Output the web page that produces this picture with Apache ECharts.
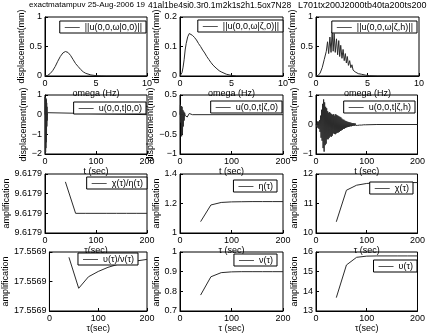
<!DOCTYPE html>
<html>
<head>
<meta charset="utf-8">
<script src="https://cdn.jsdelivr.net/npm/echarts@6/dist/echarts.min.js"></script>
<style>
html, body { margin: 0; padding: 0; background: #fff; }
#chart { width: 428px; height: 334px; }
</style>
</head>
<body>
<div id="chart"></div>
<script>
// ---- data ----
// row 1: amplitude spectra
var omegaA = [0, 0.25, 0.5, 0.75, 1, 1.25, 1.5, 1.75, 2, 2.25, 2.5, 2.75, 3, 3.25, 3.5, 3.75, 4, 4.5, 5, 5.5, 6, 10];
var specA = [0, 0.01, 0.04, 0.09, 0.16, 0.25, 0.33, 0.39, 0.415, 0.4, 0.35, 0.28, 0.21, 0.16, 0.11, 0.07, 0.045, 0.018, 0.006, 0.002, 0, 0];
var omegaB = [0, 0.2, 0.3, 0.4, 0.5, 0.6, 0.75, 0.9, 1.05, 1.2, 1.4, 1.6, 1.8, 2, 2.2, 2.4, 2.6, 2.8, 3, 3.2, 3.5, 3.8, 4, 4.5, 5, 5.5, 10];
var specB = [0, 0.012, 0.03, 0.055, 0.088, 0.11, 0.133, 0.144, 0.143, 0.138, 0.131, 0.122, 0.11, 0.1, 0.088, 0.078, 0.066, 0.056, 0.046, 0.037, 0.027, 0.018, 0.014, 0.006, 0.002, 0, 0];
var omegaC = [0, 0.2, 0.4, 0.6, 0.8, 1.0, 1.12, 1.23, 1.35, 1.46, 1.57, 1.67, 1.76, 1.87, 1.99, 2.1, 2.21, 2.3, 2.4, 2.52, 2.63, 2.74, 2.85, 2.95, 3.04, 3.15, 3.27, 3.38, 3.49, 3.6, 3.69, 3.8, 3.91, 4.1, 4.4, 4.8, 5.2, 6, 10];
var specC = [0, 0.01, 0.05, 0.14, 0.28, 0.42, 0.58, 0.38, 0.66, 0.4, 0.75, 0.42, 0.72, 0.4, 0.63, 0.36, 0.6, 0.33, 0.52, 0.3, 0.45, 0.26, 0.38, 0.22, 0.33, 0.18, 0.26, 0.14, 0.19, 0.1, 0.13, 0.07, 0.09, 0.04, 0.03, 0.015, 0.005, 0, 0];

// row 2: time histories
var timeA = [0, 0.3, 0.6, 0.9, 1.2, 1.5, 1.8, 2.1, 2.4, 2.7, 3.0, 3.3, 3.6, 3.9, 4.2, 4.5, 5, 200];
var dispA = [0, 0.9, -2, 0.9, -1.9, 0.85, -1.7, 0.8, -1.4, 0.75, -1, 0.6, -0.6, 0.4, -0.3, 0.1, 0, 0];
var timeB = [0, 0.8, 1.6, 2.4, 3.2, 4, 4.8, 5.6, 6.4, 7.2, 8, 9, 10, 12, 14, 16, 18, 20, 24, 200];
var dispB = [0, 0.25, -0.2, 0.22, -0.55, 0.2, -0.5, 0.12, -0.3, 0.08, -0.15, 0.05, -0.02, 0.02, -0.06, -0.03, 0.03, 0.01, 0, 0];
var timeC = [0, 1, 2, 3, 4, 5, 6, 7, 8, 9, 10, 11, 12, 13, 14, 15, 16, 17, 18, 19, 20,
  21, 22, 23, 24, 25, 26, 27, 28, 29, 30, 31, 32, 33, 34, 35, 36, 37, 38, 39, 40,
  41, 42, 43, 44, 45, 46, 47, 48, 49, 50, 51, 52, 53, 54, 55, 56, 57, 58, 59, 60,
  61, 62, 63, 64, 65, 66, 67, 68, 69, 70, 71, 72, 73, 74, 75, 76, 77, 78, 79, 80,
  81, 82, 83, 84, 85, 86, 87, 88, 89, 90, 91, 92, 93, 94, 95, 96, 97, 98, 99, 100, 120, 200];
var dispC = [0, 0.05, -0.08, 0.1, -0.12, 0.1, -0.15, 0.15, -0.25, 0.3, -0.45, 0.5, -0.55, 0.7, -0.8, 0.85, -0.92, 0.75, -0.7, 0.6, -0.65,
  0.55, -0.5, 0.45, -0.5, 0.4, -0.45, 0.42, -0.4, 0.38, -0.42, 0.35, -0.38, 0.33, -0.3, 0.35, -0.32, 0.3, -0.33, 0.35, -0.3,
  0.32, -0.28, 0.3, -0.27, 0.28, -0.25, 0.26, -0.22, 0.24, -0.2, 0.2, -0.18, 0.17, -0.15, 0.16, -0.14, 0.13, -0.12, 0.12, -0.1,
  0.1, -0.09, 0.09, -0.08, 0.08, -0.07, 0.07, -0.06, 0.06, -0.06, 0.05, -0.05, 0.05, -0.04, 0.04, -0.04, 0.04, -0.03, 0.03, -0.03,
  0.03, -0.03, 0.03, -0.02, 0.02, -0.02, 0.02, -0.02, 0.02, -0.02, 0.015, -0.015, 0.015, -0.01, 0.01, -0.01, 0.01, -0.01, 0.01, -0.01, 0, 0];

// rows 3-4: amplification vs tau
var tau = [40, 60, 80, 100, 120, 140, 160, 180, 200];
var chiOverEta = [9.6179032, 9.6179000, 9.6179000, 9.6179000, 9.6179000, 9.6179000, 9.6179000, 9.6179000, 9.6179000];
var eta = [1.077, 1.19, 1.207, 1.211, 1.212, 1.213, 1.213, 1.213, 1.213];
var chi = [10.38, 11.45, 11.62, 11.68, 11.7, 11.71, 11.71, 11.71, 11.71];
var upsOverNu = [17.5569164, 17.5568954, 17.5569032, 17.5569068, 17.5569096, 17.5569116, 17.556913, 17.556914, 17.556915];
var nu = [0.781, 0.874, 0.895, 0.899, 0.9, 0.9, 0.9, 0.9, 0.9];
var ups = [13.68, 15.34, 15.73, 15.79, 15.8, 15.8, 15.8, 15.8, 15.8];

var titles = ['exactmatampuv 25-Aug-2006 19', '41al1be4si0.3r0.1m2k1s2h1.5ox7N28', 'L701tx200J2000tb40ta200ts200'];
var legendNames = ['||u(0,0,ω|0,0)||', '||u(0,0,ω|ζ,0)||', '||u(0,0,ω|ζ,h)||',
  'u(0,0,t|0,0)', 'u(0,0,t|ζ,0)', 'u(0,0,t|ζ,h)',
  'χ(τ)/η(τ)', 'η(τ)', 'χ(τ)',
  'υ(τ)/ν(τ)', 'ν(τ)', 'υ(τ)'];
var xNames = ['omega (Hz)', 'omega (Hz)', 'omega (Hz)', 't (sec)', 't (sec)', 't (sec)',
  'τ(sec)', 'τ (sec)', 'τ (sec)', 'τ(sec)', 'τ (sec)', 'τ(sec)'];
var yNames = ['displacement(mm)', 'amplification'];

// axis limits [min, max, step]
var xLimits = [[0, 10, 5], [0, 200, 100]];
var yLimits = [[0, 1, 0.5], [0, 0.2, 0.1], [0, 1, 0.5], [-2, 1, 1], [-1, 0.5, 0.5], [-1, 1, 1],
  [9.617898, 9.617904, 0.000002], [1, 1.4, 0.2], [10, 12, 1], [17.55688, 17.55692, 0.00002], [0.7, 1, 0.1], [13, 16, 1]];

var seriesX = [omegaA, omegaB, omegaC, timeA, timeB, timeC, tau, tau, tau, tau, tau, tau];
var seriesY = [specA, specB, specC, dispA, dispB, dispC, chiOverEta, eta, chi, upsOverNu, nu, ups];

// ---- layout ----
var font = "'Liberation Sans', Arial, Helvetica, sans-serif";
var colLeft = [45, 180, 316];
var colWidth = [102, 103, 103];
var rowTop = [17, 95, 174, 252];
var rowHeight = 59;
var yNameGap = [12.5, 15.5, 14.8, 12.5, 18.8, 15.5, 33, 13.8, 13.2, 33, 13.8, 13.2];
var legendPos = [[282, 21], [145, 20], [11, 21], [282, 102], [146, 101], [13, 101],
  [281, 177], [151, 180], [15, 182], [290, 253], [151, 254], [11, 260]];
var lineColor = '#2b2b2b';

function pairs(xs, ys) {
  var out = [];
  for (var i = 0; i < xs.length; i++) out.push([xs[i], ys[i]]);
  return out;
}

function tickText(v, idx) {
  if (idx == 6 || idx == 9) return v.toFixed(4);
  return String(+v.toFixed(6)).replace('-', '\u2212');
}

var grids = [], xAxes = [], yAxes = [], series = [], legends = [], titleList = [];
for (var p = 0; p < 12; p++) {
  var row = Math.floor(p / 3), col = p % 3;
  grids.push({
    left: colLeft[col], top: rowTop[row], width: colWidth[col], height: rowHeight,
    show: true, borderColor: '#000', borderWidth: 1, backgroundColor: 'transparent'
  });
  var xl = xLimits[row == 0 ? 0 : 1];
  xAxes.push({
    gridIndex: p, type: 'value', min: xl[0], max: xl[1], interval: xl[2],
    name: xNames[p], nameLocation: 'middle', nameGap: 13,
    nameTextStyle: { fontSize: 9, color: '#000', fontFamily: font },
    axisLine: { show: true, onZero: false, lineStyle: { color: '#000', width: 1 } },
    axisTick: { show: true, inside: true, length: 3, lineStyle: { color: '#000' } },
    axisLabel: { fontSize: 9, color: '#000', margin: 3, fontFamily: font },
    splitLine: { show: false }
  });
  var yl = yLimits[p];
  yAxes.push({
    gridIndex: p, type: 'value', min: yl[0], max: yl[1], interval: yl[2],
    name: yNames[row < 2 ? 0 : 1], nameLocation: 'middle', nameGap: yNameGap[p],
    nameTextStyle: { fontSize: 9, color: '#000', fontFamily: font },
    axisLine: { show: true, onZero: false, lineStyle: { color: '#000', width: 1 } },
    axisTick: { show: true, inside: true, length: 3, lineStyle: { color: '#000' } },
    axisLabel: {
      fontSize: 9, color: '#000', margin: 3, fontFamily: font,
      formatter: (function (idx) { return function (v) { return tickText(v, idx); }; })(p)
    },
    splitLine: { show: false }
  });
  series.push({
    name: legendNames[p], type: 'line', xAxisIndex: p, yAxisIndex: p,
    data: pairs(seriesX[p], seriesY[p]), symbol: 'none', clip: true,
    lineStyle: { color: lineColor, width: 1 }, itemStyle: { color: lineColor },
    animation: false
  });
  legends.push({
    data: [legendNames[p]], right: legendPos[p][0], top: legendPos[p][1],
    icon: 'rect', itemWidth: 15, itemHeight: 1, padding: [2, 4, 1, 5],
    borderColor: '#000', borderWidth: 1, backgroundColor: '#fff', borderRadius: 0,
    selectedMode: false,
    itemStyle: { color: '#555' },
    textStyle: { fontSize: 9, color: '#000', fontFamily: font }
  });
}

var titleLeft = [29, 148, 298];
var titleSize = [8, 8.5, 9];
for (var t = 0; t < 3; t++) {
  titleList.push({
    text: titles[t], left: titleLeft[t], top: 1, padding: 0,
    textStyle: { fontSize: titleSize[t], fontWeight: 'normal', color: '#000', fontFamily: font }
  });
}

var chart = echarts.init(document.getElementById('chart'));
chart.setOption({
  backgroundColor: '#fff',
  animation: false,
  title: titleList,
  legend: legends,
  grid: grids,
  xAxis: xAxes,
  yAxis: yAxes,
  series: series
});
</script>
</body>
</html>
